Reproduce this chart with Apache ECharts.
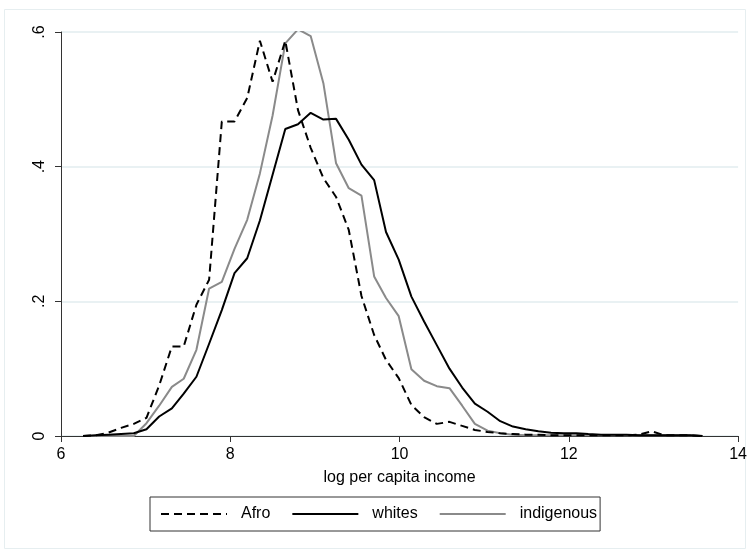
<!DOCTYPE html>
<html>
<head>
<meta charset="utf-8">
<script src="https://cdn.jsdelivr.net/npm/echarts@6/dist/echarts.min.js"></script>
<style>
html,body{margin:0;padding:0;background:#fff;}
#chart{width:750px;height:555px;}
</style>
</head>
<body>
<div id="chart"></div>
<script>
// Evaluation grid (log per capita income)
var incomeGrid = [6.26, 6.41, 6.56, 6.71, 6.86, 7.01, 7.16, 7.31, 7.45, 7.60,
  7.75, 7.90, 8.05, 8.20, 8.35, 8.50, 8.65, 8.80, 8.95, 9.10,
  9.25, 9.40, 9.55, 9.70, 9.84, 9.99, 10.14, 10.29, 10.44, 10.59,
  10.74, 10.89, 11.04, 11.19, 11.34, 11.49, 11.64, 11.79, 11.94, 12.09,
  12.23, 12.38, 12.53, 12.68, 12.83, 12.98, 13.13, 13.28, 13.43, 13.58];

var afroDensity = [0, 0.001, 0.005, 0.012, 0.018, 0.027, 0.075, 0.133, 0.133, 0.195,
  0.232, 0.467, 0.467, 0.502, 0.587, 0.526, 0.587, 0.484, 0.428, 0.383,
  0.355, 0.306, 0.208, 0.150, 0.113, 0.086, 0.046, 0.028, 0.018, 0.021,
  0.015, 0.009, 0.006, 0.004, 0.003, 0.002, 0.002, 0.001, 0.001, 0.001,
  0.001, 0.001, 0.001, 0.001, 0.002, 0.007, 0.001, 0.001, 0.001, 0];

var whitesDensity = [0, 0.001, 0.002, 0.003, 0.004, 0.010, 0.029, 0.041, 0.063, 0.088,
  0.137, 0.187, 0.242, 0.264, 0.320, 0.388, 0.456, 0.463, 0.480, 0.470,
  0.471, 0.440, 0.403, 0.380, 0.303, 0.262, 0.207, 0.170, 0.135, 0.100,
  0.072, 0.048, 0.036, 0.022, 0.014, 0.010, 0.007, 0.005, 0.004, 0.004,
  0.003, 0.002, 0.002, 0.002, 0.001, 0.001, 0.001, 0.001, 0.001, 0];

var indigenousDensity = [0, 0, 0, 0, 0, 0.019, 0.045, 0.073, 0.085, 0.128,
  0.219, 0.229, 0.278, 0.321, 0.390, 0.476, 0.583, 0.604, 0.594, 0.524,
  0.405, 0.368, 0.357, 0.237, 0.205, 0.178, 0.099, 0.082, 0.074, 0.071,
  0.045, 0.018, 0.008, 0.004, 0.002, 0.001, 0.001, 0.001, 0.001, 0.001,
  0.001, 0.001, 0.001, 0.001, 0.001, 0.001, 0.001, 0.001, 0.001, 0];

var seriesNames = ['Afro', 'whites', 'indigenous'];
var xTicks = [6, 8, 10, 12, 14];
var yTickLabels = {'0': '0', '0.2': '.2', '0.4': '.4', '0.6': '.6'};

function pairs(ys) {
  return incomeGrid.map(function (x, i) { return [x, ys[i]]; });
}

var chart = echarts.init(document.getElementById('chart'), null, {renderer: 'canvas'});
var font = 'Liberation Sans, Arial, Helvetica, sans-serif';

chart.setOption({
  animation: false,
  backgroundColor: '#ffffff',
  graphic: [{
    type: 'rect',
    shape: {x: 4.5, y: 9.5, width: 741, height: 539},
    style: {fill: 'none', stroke: '#e6eef0', lineWidth: 1},
    silent: true, z: -1
  }],
  grid: {left: 61, right: 10, top: 32, bottom: 119, containLabel: false},
  xAxis: {
    type: 'value', min: 6, max: 14, interval: 2,
    name: 'log per capita income', nameLocation: 'middle', nameGap: 34,
    nameTextStyle: {color: '#000', fontSize: 16, fontFamily: font},
    axisLine: {show: true, lineStyle: {color: '#333', width: 1}},
    axisTick: {show: true, length: 6, lineStyle: {color: '#333'}},
    axisLabel: {color: '#000', fontSize: 16, fontFamily: font, margin: 11,
      formatter: function (v) { return xTicks.indexOf(v) >= 0 ? String(v) : ''; }},
    splitLine: {show: false}
  },
  yAxis: {
    type: 'value', min: 0, max: 0.6, interval: 0.2,
    axisLine: {show: true, lineStyle: {color: '#333', width: 1}},
    axisTick: {show: true, length: 6, lineStyle: {color: '#333'}},
    axisLabel: {color: '#000', fontSize: 16, fontFamily: font, rotate: 90, margin: 13,
      formatter: function (v) { var k = String(Math.round(v * 10) / 10); return yTickLabels[k] !== undefined ? yTickLabels[k] : ''; }},
    splitLine: {show: true, lineStyle: {color: '#e9f1f3', width: 2}}
  },
  legend: {
    show: true,
    left: 150, top: 497,
    padding: [9, 3, 9, 10],
    borderColor: '#333', borderWidth: 1,
    itemWidth: 66, itemHeight: 14, itemGap: 21,
    itemStyle: {opacity: 0},
    textStyle: {color: '#000', fontSize: 16, fontFamily: font, padding: [0, 0, 0, 9]},
    data: seriesNames
  },
  series: [
    {name: seriesNames[0], type: 'line', data: pairs(afroDensity), symbol: 'none', smooth: false,
      lineStyle: {color: '#000', width: 2, type: [8, 5]}, itemStyle: {color: '#000'}, z: 3},
    {name: seriesNames[1], type: 'line', data: pairs(whitesDensity), symbol: 'none', smooth: false,
      lineStyle: {color: '#000', width: 2}, itemStyle: {color: '#000'}, z: 2},
    {name: seriesNames[2], type: 'line', data: pairs(indigenousDensity), symbol: 'none', smooth: false,
      lineStyle: {color: '#8a8a8a', width: 2}, itemStyle: {color: '#8a8a8a'}, z: 1}
  ]
});
</script>
</body>
</html>
